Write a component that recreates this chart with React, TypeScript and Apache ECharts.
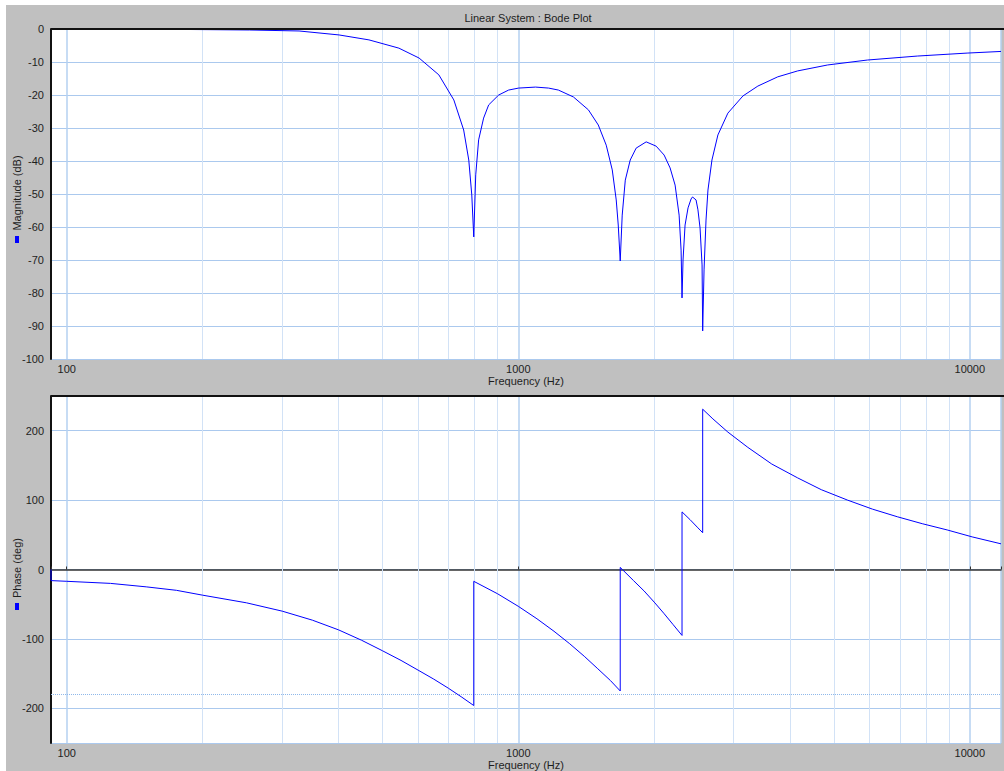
import React, { useEffect, useRef } from "react";
import * as echarts from "echarts";

const freqMin = 92.3;
const freqMax = 11724;
const minorGridFreq = [200, 300, 400, 500, 600, 700, 800, 900, 2000, 3000, 4000, 5000, 6000, 7000, 8000, 9000];

const magFreq = [92.3, 118, 169, 254, 327, 401, 467, 544, 603, 667, 720, 757, 777, 789, 797, 805, 817, 838, 860, 905, 952, 1002, 1092, 1167, 1227, 1325, 1430, 1504, 1566, 1615, 1648, 1665, 1682, 1699, 1726, 1770, 1824, 1920, 2020, 2104, 2169, 2225, 2271, 2294, 2305, 2317, 2341, 2377, 2414, 2432, 2476, 2500, 2527, 2553, 2561, 2579, 2605, 2631, 2685, 2768, 2912, 3144, 3393, 3755, 4157, 4842, 5934, 7651, 9863, 11724];
const magDb = [0, 0, -0.1, -0.3, -0.6, -1.8, -3.3, -5.8, -8.8, -13.9, -21.5, -30.6, -39.7, -50.3, -63, -44.2, -33.6, -27, -23, -20, -18.5, -17.9, -17.6, -17.9, -18.5, -20.6, -24.5, -29.1, -35.2, -42.7, -51.8, -59.4, -70.3, -56.4, -45.8, -39.7, -36.1, -34.2, -35.5, -38.2, -42.1, -47.3, -56.4, -67, -81.5, -70, -59.4, -54.2, -51.5, -50.9, -51.8, -54.8, -60.3, -71.5, -91.5, -73, -57.9, -48.8, -39.7, -32.1, -25.5, -20.3, -17.3, -14.5, -12.7, -10.9, -9.4, -8.2, -7.3, -6.8];

const phaseFreq = [92.3, 92.3, 100, 125, 150, 175, 200, 250, 300, 350, 400, 450, 500, 550, 600, 650, 700, 750, 797, 797, 900, 1000, 1100, 1200, 1300, 1400, 1500, 1600, 1682, 1682, 1800, 1900, 2000, 2100, 2200, 2305, 2305, 2400, 2500, 2561, 2561, 2698, 2912, 3224, 3642, 4157, 4690, 5360, 6086, 6910, 7847, 8910, 10120, 11724];
const phaseDeg = [0, -16, -17, -20, -25, -30, -37, -48, -60, -73, -87, -102, -117, -131, -145, -158, -171, -184, -196, -17, -35, -53, -71, -89, -107, -125, -143, -160, -175, 3, -16, -31, -47, -63, -79, -95, 83, 72, 60, 53, 231, 217, 198, 176, 152, 132, 115, 100, 87, 76, 66, 57, 47, 37];

const FONT = '"Liberation Sans", Arial, sans-serif';
const TXT = "#1e1e1e";
const MAJOR_V = "#b4d0f0";
const MINOR_V = "#d2e2f6";
const H_LINE = "#abc9ee";

export default function App() {
  const ref = useRef<HTMLDivElement>(null);
  useEffect(() => {
    document.body.style.margin = "0";
    document.body.style.overflow = "hidden";
    const chart = echarts.init(ref.current!, null, { renderer: "svg" });
    const L = 51, T1 = 29, H1 = 330, T2 = 396, H2 = 347;
    const fmt = (v: number) => {
      const l = Math.log10(v);
      return Math.abs(l - Math.round(l)) < 1e-6 ? String(Math.round(v)) : "";
    };
    const xCommon = (gi: number) => ({
      gridIndex: gi,
      type: "log",
      logBase: 10,
      min: freqMin,
      max: freqMax,
      axisLine: { show: false, onZero: false },
      axisTick: { show: false },
      axisLabel: { formatter: fmt, fontSize: 11, color: TXT, fontFamily: FONT, margin: 4 },
      splitLine: { show: true, lineStyle: { color: MAJOR_V, width: 1.5 } },
      name: "Frequency (Hz)",
      nameLocation: "middle",
      nameGap: 16,
      nameTextStyle: { fontSize: 11, color: TXT, fontFamily: FONT },
    });
    const minorMark = (extra: any[] = []) => ({
      silent: true,
      symbol: ["none", "none"],
      z: 1,
      label: { show: false },
      lineStyle: { color: MINOR_V, width: 1, type: "solid" },
      data: [...minorGridFreq.map((f) => ({ xAxis: f })), ...extra],
    });
    chart.setOption({
      animation: false,
      backgroundColor: "#c0c0c0",
      grid: [
        { left: L, top: T1, right: 0, height: H1, show: true, backgroundColor: "#fff", borderWidth: 0 },
        { left: L, top: T2, right: 0, height: H2, show: true, backgroundColor: "#fff", borderWidth: 0 },
      ],
      xAxis: [
        xCommon(0),
        xCommon(1),
        {
          gridIndex: 1,
          type: "log",
          logBase: 10,
          min: freqMin,
          max: freqMax,
          position: "top",
          axisLine: { show: true, onZero: true, onZeroAxisIndex: 1, lineStyle: { color: "#333", width: 1.5 } },
          axisTick: { show: true, length: 3, lineStyle: { color: "#333" } },
          axisLabel: { show: false },
          splitLine: { show: false },
        },
      ],
      yAxis: [
        {
          gridIndex: 0,
          type: "value",
          min: -100,
          max: 0,
          interval: 10,
          axisLine: { show: true, onZero: false, lineStyle: { color: "#111", width: 2 } },
          axisTick: { show: false },
          axisLabel: { fontSize: 11, color: TXT, fontFamily: FONT, margin: 7 },
          splitLine: { show: true, lineStyle: { color: H_LINE, width: 1 } },
        },
        {
          gridIndex: 1,
          type: "value",
          min: -250,
          max: 250,
          splitNumber: 5,
          axisLine: { show: true, onZero: false, lineStyle: { color: "#111", width: 2 } },
          axisTick: { show: false },
          axisLabel: {
            fontSize: 11, color: TXT, fontFamily: FONT, margin: 7,
            formatter: (v: number) => (v % 100 === 0 ? String(v) : ""),
          },
          splitLine: { show: true, lineStyle: { color: H_LINE, width: 1 } },
        },
      ],
      series: [
        {
          type: "line", xAxisIndex: 0, yAxisIndex: 0, data: [], z: 1,
          markLine: minorMark(),
        },
        {
          type: "line", xAxisIndex: 1, yAxisIndex: 1, data: [], z: 1,
          markLine: minorMark([{ yAxis: -180, lineStyle: { color: "#8fb8ea", type: [1, 1], width: 1 } }]),
        },
        {
          name: "Magnitude (dB)",
          type: "line", xAxisIndex: 0, yAxisIndex: 0, z: 5,
          showSymbol: false, symbol: "none",
          lineStyle: { color: "#0000ff", width: 1 },
          data: magFreq.map((f, i) => [f, magDb[i]]),
        },
        {
          name: "Phase (deg)",
          type: "line", xAxisIndex: 1, yAxisIndex: 1, z: 5,
          showSymbol: false, symbol: "none",
          lineStyle: { color: "#0000ff", width: 1 },
          data: phaseFreq.map((f, i) => [f, phaseDeg[i]]),
        },
      ],
      graphic: [
        { type: "rect", z: 100, shape: { x: 0, y: 0, width: 1004, height: 5 }, style: { fill: "#fff" } },
        { type: "rect", z: 100, shape: { x: 0, y: 0, width: 6, height: 771 }, style: { fill: "#fff" } },
        { type: "line", z: 100, shape: { x1: L, y1: T1, x2: 1004, y2: T1 }, style: { stroke: "#111", lineWidth: 2 } },
        { type: "line", z: 100, shape: { x1: L, y1: T2, x2: 1004, y2: T2 }, style: { stroke: "#111", lineWidth: 2 } },
        {
          type: "text", z: 100, x: 528, y: 17.5,
          style: { text: "Linear System : Bode Plot", font: `11px ${FONT}`, fill: TXT, align: "center", verticalAlign: "middle" },
        },
        {
          type: "text", z: 100, x: 17, y: 193, rotation: Math.PI / 2,
          style: { text: "Magnitude (dB)", font: `11px ${FONT}`, fill: TXT, align: "center", verticalAlign: "middle" },
        },
        { type: "rect", z: 100, shape: { x: 15, y: 236, width: 4, height: 7 }, style: { fill: "#0000ff" } },
        {
          type: "text", z: 100, x: 17, y: 568, rotation: Math.PI / 2,
          style: { text: "Phase (deg)", font: `11px ${FONT}`, fill: TXT, align: "center", verticalAlign: "middle" },
        },
        { type: "rect", z: 100, shape: { x: 15, y: 603, width: 4, height: 7 }, style: { fill: "#0000ff" } },
      ],
    });
    return () => chart.dispose();
  }, []);
  return <div ref={ref} style={{ width: 1004, height: 771 }} />;
}
